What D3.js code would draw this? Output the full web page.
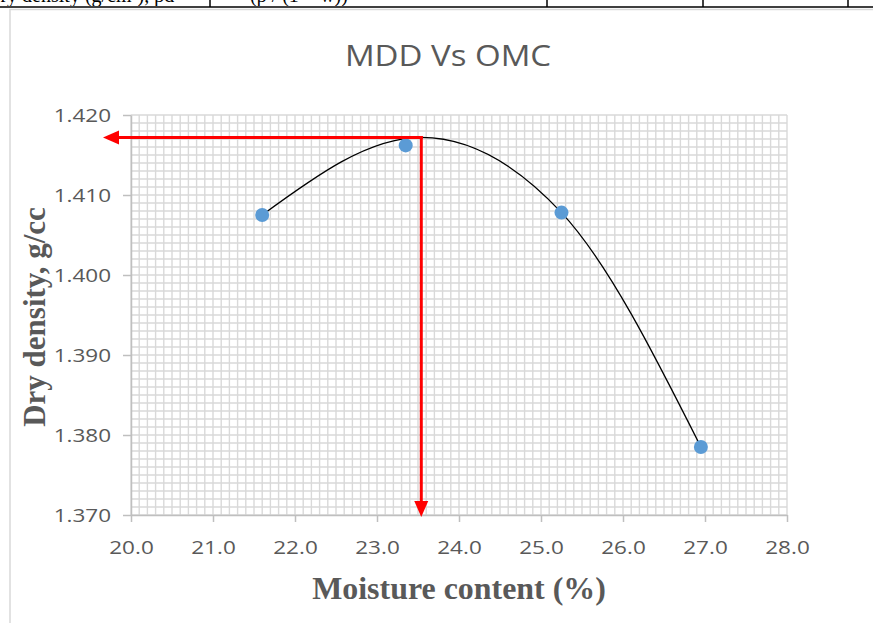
<!DOCTYPE html>
<html>
<head>
<meta charset="utf-8">
<script src="https://cdn.jsdelivr.net/npm/d3@7"></script>
<style>
  html, body { margin: 0; padding: 0; background: #fff; }
  svg { display: block; }
</style>
</head>
<body>
<svg id="chart" width="873" height="623"></svg>
<script>
// Compaction test readings
const moisture = [21.6, 23.35, 25.25, 26.95];          // moisture content, %
const dryDensity = [1.4075, 1.4162, 1.4078, 1.3785];   // dry density, g/cc

// Optimum moisture content and maximum dry density from the compaction curve
const omc = 23.54;
const mdd = 1.4172;

// Compaction curve passes through the readings and peaks at (OMC, MDD)
const curveX = [21.6, 23.54, 25.25, 26.95];
const curveY = [1.4075, 1.4172, 1.4078, 1.3785];

// Axis ticks
const xTicks = [20, 21, 22, 23, 24, 25, 26, 27, 28];
const yTicks = [1.370, 1.380, 1.390, 1.400, 1.410, 1.420];

// Table row text above the chart
const tableCells = ["Dry density (g/cm\u00b3), \u03c1d", "(\u03c1 / (1 + w))"];

(function () {
const svg = d3.select("#chart");
const pLeft = 131, pRight = 787, pTop = 115, pBottom = 515;
const sans = "Open Sans, Liberation Sans, sans-serif";
const serif = "Liberation Serif, Times New Roman, serif";
const tickStretch = 1.25;

const x = d3.scaleLinear().domain([20, 28]).range([pLeft, pRight]);
const y = d3.scaleLinear().domain([1.370, 1.420]).range([pBottom, pTop]);

// Table border strip at the top
const tableLines = [210, 547, 703, 848];
svg.append("line").attr("x1", 0).attr("x2", 873).attr("y1", 7).attr("y2", 7)
  .attr("stroke", "#000").attr("stroke-width", 1.5);
tableLines.forEach(v => svg.append("line").attr("x1", v).attr("x2", v).attr("y1", 0).attr("y2", 7)
  .attr("stroke", "#000").attr("stroke-width", 1.5));
const clip = svg.append("defs").append("clipPath").attr("id", "rowclip");
clip.append("rect").attr("x", 0).attr("y", 0).attr("width", 873).attr("height", 6);
const row = svg.append("g").attr("clip-path", "url(#rowclip)");
row.append("text").attr("x", -14).attr("y", 2).text(tableCells[0])
  .attr("font-family", serif).attr("font-size", 20).attr("fill", "#000");
row.append("text").attr("x", 250).attr("y", 2).text(tableCells[1])
  .attr("font-family", serif).attr("font-size", 20).attr("fill", "#000");

// Chart frame
svg.append("rect").attr("x", 10).attr("y", 9.5).attr("width", 880).attr("height", 640)
  .attr("fill", "#fff").attr("stroke", "#d9d9d9").attr("stroke-width", 1.5);

// Title
svg.append("text").attr("transform", "translate(448,66) scale(1.1,1)").attr("text-anchor", "middle")
  .attr("font-family", sans).attr("font-size", 30)
  .attr("fill", "#595959").text("MDD Vs OMC");

// Minor grid every 0.1 % and 0.001 g/cc
const grid = svg.append("g");
d3.range(0, 81).forEach(i => {
  const v = 20 + i * 0.1;
  grid.append("line").attr("x1", x(v)).attr("x2", x(v)).attr("y1", pTop).attr("y2", pBottom)
    .attr("stroke", "#d9d9d9").attr("stroke-width", 1.4);
});
d3.range(0, 51).forEach(i => {
  const v = 1.370 + i * 0.001;
  grid.append("line").attr("x1", pLeft).attr("x2", pRight).attr("y1", y(v)).attr("y2", y(v))
    .attr("stroke", "#d9d9d9").attr("stroke-width", 1.4);
});

// Axes
const xAxis = svg.append("g").attr("transform", `translate(0,${pBottom})`)
  .call(d3.axisBottom(x).tickValues(xTicks).tickFormat(d3.format(".1f")).tickSize(7).tickSizeOuter(0));
const yAxis = svg.append("g").attr("transform", `translate(${pLeft},0)`)
  .call(d3.axisLeft(y).tickValues(yTicks).tickFormat(d3.format(".3f")).tickSize(8).tickSizeOuter(0));
[xAxis, yAxis].forEach(a => {
  a.select(".domain").attr("stroke", "#bfbfbf").attr("stroke-width", 1.5);
  a.selectAll(".tick line").attr("stroke", "#bfbfbf").attr("stroke-width", 1.5);
  a.selectAll(".tick text").attr("fill", "#595959")
    .attr("font-family", sans).attr("font-size", 18)
    .attr("transform", `scale(${tickStretch},1)`);
});
xAxis.selectAll(".tick text").attr("y", 39).attr("dy", 0);
yAxis.selectAll(".tick text").attr("x", -20 / tickStretch).attr("dy", "0.35em");

// Axis titles
svg.append("text").attr("transform", "translate(459,599) scale(1.03,1)").attr("text-anchor", "middle")
  .attr("font-family", serif).attr("font-weight", "bold")
  .attr("font-size", 31).attr("fill", "#595959").text("Moisture content (%)");
svg.append("text").attr("transform", `translate(45,${317}) rotate(-90)`).attr("text-anchor", "middle")
  .attr("font-family", serif).attr("font-weight", "bold")
  .attr("font-size", 31).attr("fill", "#595959").text("Dry density, g/cc");

// Compaction curve
const curvePts = curveX.map((v, i) => [v, curveY[i]]);
svg.append("path").datum(curvePts)
  .attr("d", d3.line().x(d => x(d[0])).y(d => y(d[1])).curve(d3.curveMonotoneX))
  .attr("fill", "none").attr("stroke", "#000").attr("stroke-width", 1.3);

// Readings
svg.append("g").selectAll("circle").data(moisture.map((v, i) => [v, dryDensity[i]]))
  .join("circle").attr("cx", d => x(d[0])).attr("cy", d => y(d[1])).attr("r", 7)
  .attr("fill", "#5b9bd5");

// OMC / MDD arrows
const red = "#ff0000";
const hx0 = x(omc), hy = y(mdd);
const hTip = pLeft - 28;
svg.append("line").attr("x1", hx0 + 1.5).attr("x2", hTip + 14).attr("y1", hy).attr("y2", hy)
  .attr("stroke", red).attr("stroke-width", 3);
svg.append("path").attr("d", `M${hTip},${hy} L${hTip + 16},${hy - 7} L${hTip + 16},${hy + 7} Z`).attr("fill", red);
const vTip = pBottom + 2;
svg.append("line").attr("x1", hx0).attr("x2", hx0).attr("y1", hy - 1.5).attr("y2", vTip - 14)
  .attr("stroke", red).attr("stroke-width", 3);
svg.append("path").attr("d", `M${hx0},${vTip} L${hx0 - 7},${vTip - 16} L${hx0 + 7},${vTip - 16} Z`).attr("fill", red);
})();
</script>
</body>
</html>
